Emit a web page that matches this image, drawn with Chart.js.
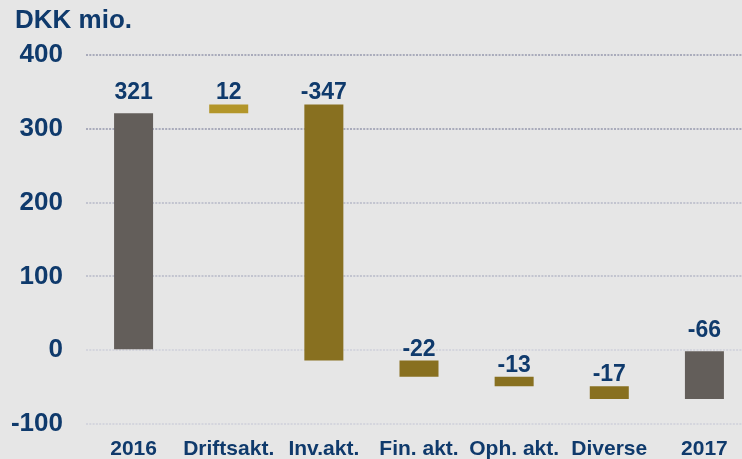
<!DOCTYPE html>
<html>
<head>
<meta charset="utf-8">
<script src="https://cdn.jsdelivr.net/npm/chart.js@4/dist/chart.umd.min.js"></script>
<style>
  html, body { margin: 0; padding: 0; background: #e6e6e6; overflow: hidden; }
  #wrap { position: relative; width: 742px; height: 459px; overflow: hidden; }
  #inner { position: absolute; left: 0; top: 0; width: 760px; height: 459px; }
</style>
</head>
<body>
<div id="wrap"><div id="inner"><canvas id="c" width="760" height="459"></canvas></div></div>
<script>
const categories = ['2016', 'Driftsakt.', 'Inv.akt.', 'Fin. akt.', 'Oph. akt.', 'Diverse', '2017'];
const values = [321, 12, -347, -22, -13, -17, -66];
const barTypes = ['total', 'delta', 'delta', 'delta', 'delta', 'delta', 'total'];
const yTicks = [-100, 0, 100, 200, 300, 400];
const yTitle = 'DKK mio.';

const TEXT = '#0f3a6c';
const FONT = '"Liberation Sans", Arial, sans-serif';

// waterfall ranges
let running = 0;
const ranges = values.map((v, i) => {
  if (barTypes[i] === 'total') { running = v; return [0, v]; }
  const start = running; running += v; return [start, running];
});
const colors = values.map((v, i) => barTypes[i] === 'total' ? '#635e5a' : (v >= 0 ? '#b3962a' : '#887020'));

const gridColorFor = (val) => {
  if (val >= 300) return '#a9abbb';
  if (val >= 100) return '#c2c4cf';
  return '#d4d5dd';
};

const labelPlugin = {
  id: 'labels',
  afterDatasetsDraw(chart) {
    const ctx = chart.ctx;
    const meta = chart.getDatasetMeta(0);
    ctx.save();
    ctx.fillStyle = TEXT;
    ctx.font = 'bold 23px ' + FONT;
    ctx.textAlign = 'center';
    ctx.textBaseline = 'alphabetic';
    meta.data.forEach((bar, i) => {
      const top = Math.min(bar.y, bar.base);
      const gap = barTypes[i] === 'total' ? 14 : 5;
      ctx.fillText(String(values[i]), bar.x, top - gap);
    });
    ctx.font = 'bold 26px ' + FONT;
    ctx.textAlign = 'left';
    ctx.fillText(yTitle, 15, 28);
    ctx.restore();
  }
};

new Chart(document.getElementById('c'), {
  type: 'bar',
  data: {
    labels: categories,
    datasets: [{
      data: ranges,
      backgroundColor: colors,
      borderWidth: 0,
      barPercentage: 0.41,
      categoryPercentage: 1.0
    }]
  },
  options: {
    responsive: false,
    animation: false,
    layout: { padding: { top: 55, right: 8, left: 0, bottom: 0 } },
    plugins: { legend: { display: false }, tooltip: { enabled: false }, title: { display: false } },
    scales: {
      x: {
        grid: { display: false },
        border: { display: false },
        ticks: { color: TEXT, font: { family: FONT, weight: 'bold', size: 21 }, padding: 5, maxRotation: 0, autoSkip: false },
        afterFit(scale) { scale.height = 35; }
      },
      y: {
        min: -100, max: 400,
        afterBuildTicks(scale) { scale.ticks = yTicks.map(v => ({ value: v })); },
        grid: {
          drawTicks: true,
          tickLength: 23,
          tickColor: 'rgba(0,0,0,0)',
          lineWidth: 2,
          color: (c) => gridColorFor(c.tick ? c.tick.value : 0)
        },
        border: { display: false, dash: [2, 1.3] },
        ticks: { color: TEXT, font: { family: FONT, weight: 'bold', size: 26 }, padding: 0 },
        afterFit(scale) { scale.width = 86; }
      }
    }
  },
  plugins: [labelPlugin]
});
</script>
</body>
</html>
